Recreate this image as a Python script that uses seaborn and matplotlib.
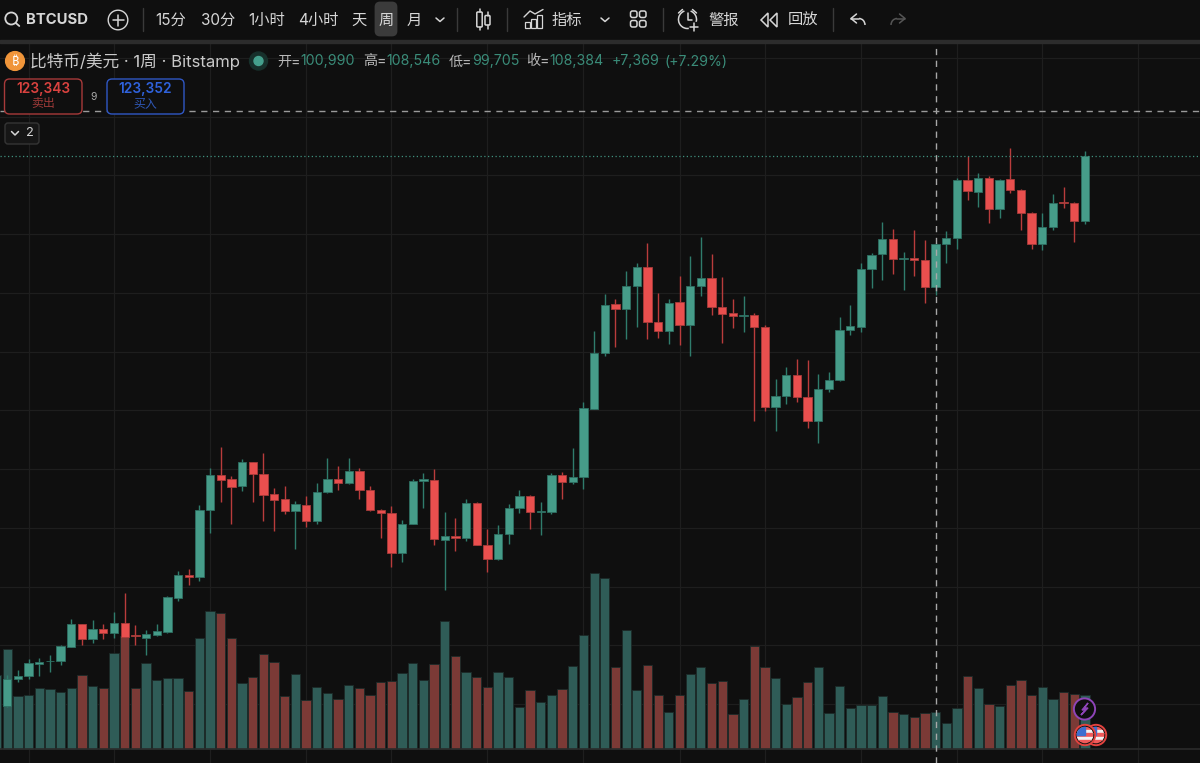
import numpy as np
import pandas as pd
import matplotlib
matplotlib.use("Agg")
import matplotlib.pyplot as plt
import seaborn as sns
from matplotlib.patches import Circle, FancyBboxPatch, Rectangle, Polygon, Arc

# Weekly BTC/USD candles: high, top of body, bottom of body, low
highs = [34932,35784,37707,37775,38288,39992,44523,43618,44248,43618,45712,48948,43396,42647,43618,48434,52695,52933,63884,70133,
         73760,68822,71718,71206,72688,66726,67119,64565,65416,67578,71888,70525,71888,70133,67119,63202,63765,61329,68311,69333,
         69963,62640,61670,64905,64394,59745,60477,64003,66386,65535,64343,69282,69452,73539,81476,93515,99817,98965,103734,105147,
         108451,99936,98965,102832,106339,109473,106578,102660,98914,99527,96530,94487,85290,87436,88696,88577,86143,86483,95848,97943,
         105045,106748,112027,110835,106918,110716,109063,108546,110546,119520,123318,120423,119912,119350,124630,117647,113730,113560,116796,118039,
         115484,124119]
body_tops = [34251,34813,36924,37196,37368,39822,43618,43618,42817,42766,43737,43737,41693,41864,42374,48165,51962,52014,63032,68992,
             68941,68260,71206,71206,69213,65703,64851,64003,63935,66148,68362,68362,69622,69622,66488,63032,62572,60699,68021,68260,
             68141,58604,58604,64173,64173,57122,58945,63372,65467,65467,62862,68941,68941,68702,80352,89769,97943,98062,101231,104415,
             104466,95049,98284,98403,101231,102542,102542,97653,96530,96189,96189,94197,82497,86074,86074,82225,83587,85120,93737,94315,
             104125,106510,109131,109131,105948,105897,105658,108384,109303,119231,119231,119572,119572,119300,119350,117529,113560,111176,115365,115484,
             115263,123343]
body_bottoms = [29653,34302,34762,36855,37266,37266,39753,41115,41115,42085,42034,41455,41523,41285,41744,42255,48097,51622,51570,62981,
                68141,67000,67068,69213,65587,64783,62862,62862,61210,61210,66046,67578,67578,66438,62981,62572,55657,55657,60597,68021,
                58040,57923,58264,58213,57071,54636,54636,58894,63423,62640,62743,62691,67800,67800,68600,80284,89718,97211,97211,101231,
                95049,93465,93465,94487,94487,101231,97653,96359,96121,96070,94197,80625,80625,82497,82225,78240,78240,83690,85120,93737,
                94197,104125,106578,105725,105829,105658,101009,100990,108384,109303,117357,117238,114241,114241,117529,113560,108281,108281,111176,115365,
                112197,112197]
lows = [29482,33791,34302,34813,35495,36585,39701,39992,40382,41115,41285,41353,40041,38288,41574,42136,47586,50311,50941,59164,
        64445,60597,66318,64445,61210,59506,62351,56340,60086,60597,65927,66488,67510,64905,62913,58315,53375,54227,60563,63320,
        57071,49408,56050,57753,57000,52422,54517,57293,62572,59796,58774,62402,64905,67408,66657,80200,89309,90738,92102,94248,
        92102,92375,91300,91131,89207,99476,96189,91523,94077,93396,78138,79944,76537,81135,81475,77048,74494,83127,85052,92834,
        93396,100838,102150,103171,100447,102932,98285,99705,105147,107480,115774,114632,111960,112708,116966,110716,107480,107361,110767,114514,
        108725,111738]
# Weeks that closed above their open
up_weeks = [0,1,2,3,4,5,6,8,10,13,14,15,16,18,19,22,27,29,30,32,37,38,39,41,43,46,47,48,50,51,53,54,55,56,58,59,62,64,65,69,
            72,73,76,77,78,79,80,81,82,84,87,88,89,91,93,97,98,101]

# Weekly traded volume, in relative units
earlier_volume = 222
volumes = [299,160,162,182,179,171,182,223,189,182,287,340,182,257,207,214,212,173,333,415,
           407,332,197,217,286,262,159,225,147,185,167,150,191,182,163,202,204,228,258,206,
           254,385,279,230,216,187,230,217,126,176,142,163,180,248,343,529,513,245,356,176,
           252,163,111,161,224,247,198,204,106,150,310,246,214,134,155,201,246,107,190,123,
           132,131,158,110,104,96,107,110,77,124,219,182,135,130,192,208,163,187,150,170,
           166,161]

# Reference lines: month starts on the time axis and round prices
month_weeks = [2,10,19,28,36,45,54,63,71,80,89,97,106]
price_grid = list(range(30000, 150000, 10000))
cursor_week = 87
cursor_price = 131030

BG = "#0f0f0f"
GRID = "#1e1e1e"
GREEN, GREEN_EDGE, GREEN_WICK = "#469c89", "#2e6f62", "#2f7c6c"
RED, RED_EDGE, RED_WICK = "#e94f4e", "#a83c3b", "#b93c3c"
VOL_GREEN, VOL_RED = "#2f5c57", "#7b3a36"

sns.set_theme(style="dark", rc={"axes.facecolor": BG, "figure.facecolor": BG})
plt.rcParams["font.family"] = ["Inter", "Noto Sans CJK SC", "DejaVu Sans"]

fig = plt.figure(figsize=(12, 7.63), dpi=100)
PX = 10.67
xlim = (-7.3 / PX, (1200 - 7.3) / PX)
ylim_price = (19946, 149885)


def clean(axis):
    axis.set_xlim(*xlim)
    axis.set_xticks([])
    axis.set_yticks([])
    axis.set_xlabel("")
    axis.set_ylabel("")
    for s in axis.spines.values():
        s.set_visible(False)


# Grid behind both panes
ax_grid = fig.add_axes([0, 0, 1, 1], zorder=0)
ax_grid.set_ylim(*ylim_price)
clean(ax_grid)
for p in price_grid:
    ax_grid.axhline(p, color=GRID, lw=0.9)
for m in month_weeks:
    ax_grid.axvline(m, color=GRID, lw=0.9)

# Volume pane
ax_vol = fig.add_axes([0, 0, 1, 1], zorder=1)
ax_vol.patch.set_alpha(0)
weeks = np.arange(len(volumes))
vol_df = pd.DataFrame({
    "week": np.r_[-1, weeks],
    "volume": [earlier_volume] + volumes,
    "direction": ["up"] + ["up" if w in up_weeks else "down" for w in weeks],
})
sns.barplot(data=vol_df, x="week", y="volume", hue="direction",
            palette={"up": VOL_GREEN, "down": VOL_RED}, native_scale=True,
            dodge=False, width=0.87, saturation=1, edgecolor="#1c2a28", linewidth=0.6,
            legend=False, ax=ax_vol)
ax_vol.set_ylim(-42, 2247)
clean(ax_vol)
ax_vol.axhline(0, color="#2b2b2b", lw=1.2, zorder=3)

# Candle pane
ax = fig.add_axes([0, 0, 1, 1], zorder=2)
ax.patch.set_alpha(0)
ax.set_ylim(*ylim_price)
wk = np.arange(len(highs))
is_up = np.isin(wk, up_weeks)
tops = np.array(body_tops)
bots = np.array(body_bottoms)
ax.vlines(wk[is_up], np.array(lows)[is_up], np.array(highs)[is_up], color=GREEN_WICK, lw=1.0, zorder=2)
ax.vlines(wk[~is_up], np.array(lows)[~is_up], np.array(highs)[~is_up], color=RED_WICK, lw=1.0, zorder=2)
ax.bar(wk[is_up], (tops - bots)[is_up], bottom=bots[is_up], width=0.78,
       color=GREEN, edgecolor=GREEN_EDGE, linewidth=0.6, zorder=3)
ax.bar(wk[~is_up], (tops - bots)[~is_up], bottom=bots[~is_up], width=0.78,
       color=RED, edgecolor=RED_EDGE, linewidth=0.6, zorder=3)
ax.axhline(body_tops[-1], color="#3f8f7e", lw=0.9, ls=(0, (1, 2)), zorder=4)
ax.axvline(cursor_week, color="#a8a8a8", lw=1.0, ls=(0, (4.5, 4)), zorder=5)
ax.axhline(cursor_price, color="#9a9a9a", lw=1.0, ls=(0, (4.5, 4)), zorder=5)
clean(ax)

# Toolbar and header, laid out in screen pixels
ui = fig.add_axes([0, 0, 1, 1], zorder=3)
ui.set_xlim(0, 1200)
ui.set_ylim(763, 0)
ui.axis("off")
ui.patch.set_alpha(0)

LIGHT = "#d6d6d6"
ui.add_patch(Rectangle((0, 0), 1200, 39.5, color=BG, zorder=0))
ui.add_patch(Rectangle((0, 39.5), 1200, 3.8, color="#2c2c2c", zorder=0))


def label(x, y, s, size=10.4, color=LIGHT, ha="left", weight="normal", **kw):
    return ui.text(x, y, s, fontsize=size, color=color, ha=ha, va="center", weight=weight, **kw)


def stroke(xs, ys, color=LIGHT, lw=1.1):
    ui.plot(xs, ys, color=color, lw=lw, solid_capstyle="round", solid_joinstyle="round")


# Search and symbol
ui.add_patch(Circle((11.3, 18.5), 6.0, fill=False, ec=LIGHT, lw=1.3))
stroke([15.8, 19.3], [23, 26], lw=1.3)
label(26, 19.5, "BTCUSD", size=10.7, weight="bold")
ui.add_patch(Circle((118, 20), 9.8, fill=False, ec=LIGHT, lw=1.0))
stroke([112.5, 123.5], [20, 20])
stroke([118, 118], [14.5, 25.5])

# Interval buttons
ui.add_patch(FancyBboxPatch((376, 3), 20, 32, boxstyle="round,pad=0,rounding_size=4", fc="#3b3b3b", ec="#3b3b3b", lw=2))
for x, s in [(155.5, "15分"), (201.5, "30分"), (248, "1小时"), (298.5, "4小时"), (351, "天"), (379, "周"), (407, "月")]:
    label(x, 20, s, size=11)
stroke([436, 440, 444], [18, 21.5, 18])
for x in (143, 457, 507, 663, 833):
    ui.plot([x, x], [8, 31], color="#3a3a3a", lw=1.0)

# Chart type icon
ui.add_patch(FancyBboxPatch((476.8, 12), 5.4, 15, boxstyle="round,pad=0,rounding_size=1", fill=False, ec=LIGHT, lw=1.1))
ui.add_patch(FancyBboxPatch((485, 15.5), 5, 9.5, boxstyle="round,pad=0,rounding_size=1", fill=False, ec=LIGHT, lw=1.1))
stroke([479.5, 479.5], [9, 12]); stroke([479.5, 479.5], [27, 30])
stroke([487.5, 487.5], [12, 15.5]); stroke([487.5, 487.5], [25, 28.5])

# Indicators icon and label
stroke([524, 530, 535, 543], [17, 11, 14, 9.5], lw=1.0)
for bx, bh in [(525, 6), (531, 9), (537, 13)]:
    ui.add_patch(Rectangle((bx, 28 - bh), 5, bh, fill=False, ec=LIGHT, lw=0.9))
label(552, 20, "指标", size=11)
stroke([601, 605, 609], [18, 21.5, 18])
for gx, gy in [(630.5, 11), (639.5, 11), (630.5, 20.5), (639.5, 20.5)]:
    ui.add_patch(FancyBboxPatch((gx, gy), 6.5, 6.5, boxstyle="round,pad=0,rounding_size=2", fill=False, ec=LIGHT, lw=1.1))

# Alert icon and label
ui.add_patch(Arc((687.5, 19.5), 18, 18, theta1=-70, theta2=250, ec=LIGHT, lw=1.1))
stroke([687.5, 687.5, 692], [13, 20, 20])
stroke([678.5, 682.5], [13, 9.5]); stroke([692.5, 696.5], [9.5, 13])
ui.add_patch(Rectangle((689, 22), 9, 9, color=BG, zorder=1.5))
stroke([689.5, 697.5], [26.5, 26.5]); stroke([693.5, 693.5], [22.5, 30.5])
label(708, 20, "警报", size=11)

# Replay icon and label
ui.add_patch(Polygon([(768, 13), (761, 20), (768, 27)], fill=False, ec=LIGHT, lw=1.1))
ui.add_patch(Polygon([(777, 13), (770, 20), (777, 27)], fill=False, ec=LIGHT, lw=1.1))
label(788, 20, "回放", size=11)

# Undo and redo arrows
stroke([856.5, 851, 856.5], [14, 18.5, 23])
stroke([851, 859], [18.5, 18.5])
ui.add_patch(Arc((859, 25), 12, 13, theta1=270, theta2=360, ec=LIGHT, lw=1.1))
DIM = "#555555"
stroke([899.5, 905, 899.5], [14, 18.5, 23], color=DIM)
stroke([905, 897], [18.5, 18.5], color=DIM)
ui.add_patch(Arc((897, 25), 12, 13, theta1=180, theta2=270, ec=DIM, lw=1.1))

# Instrument title and OHLC readout
ui.add_patch(Circle((15, 61), 9.4, color="#f0953a"))
label(15, 61, "₿", size=9, color="#ffffff", ha="center",
      family=["Noto Sans", "Roboto", "Open Sans", "Lato", "Inter", "Liberation Sans", "DejaVu Sans"])
label(30, 61, "比特币/美元 · 1周 · Bitstamp", size=12, color="#c9c9c9")
ui.add_patch(Circle((258.5, 61), 9, color="#17302b"))
ui.add_patch(Circle((258.5, 61), 4.5, color="#45a08d"))
TEAL = "#3a8c79"
GREY = "#b8b8b8"
for x, s, c in [(277, "开=", GREY), (300.5, "100,990", TEAL), (363, "高=", GREY), (386.5, "108,546", TEAL),
                (449, "低=", GREY), (472, "99,705", TEAL), (526, "收=", GREY), (549.5, "108,384", TEAL),
                (611.5, "+7,369", TEAL), (664, "(+7.29%)", TEAL)]:
    label(x, 61.5, s, size=10.2, color=c)

# Sell and buy buttons
ui.add_patch(FancyBboxPatch((4.5, 79), 77.5, 35, boxstyle="round,pad=0,rounding_size=5", fc=BG, ec="#a83a3a", lw=1.0, zorder=6))
ui.add_patch(FancyBboxPatch((107, 79), 77, 35, boxstyle="round,pad=0,rounding_size=5", fc=BG, ec="#2f57c4", lw=1.0, zorder=6))
label(43, 89.5, "123,343", size=9.9, color="#d9423f", ha="center", weight="semibold", zorder=7)
label(43, 104, "卖出", size=8.6, color="#9c3a38", ha="center", zorder=7)
label(145.5, 89.5, "123,352", size=9.9, color="#2f62dc", ha="center", weight="semibold", zorder=7)
label(145.5, 104, "买入", size=8.6, color="#2f58b8", ha="center", zorder=7)
label(94, 97, "9", size=7.5, color="#a8a8a8", ha="center")

# Collapsed indicator counter
ui.add_patch(FancyBboxPatch((5, 123), 34, 21, boxstyle="round,pad=0,rounding_size=3", fc="#161616", ec="#353535", lw=1.0))
stroke([11.5, 15, 18.5], [131.5, 135, 131.5])
label(30, 133.5, "2", size=9.2, color=LIGHT, ha="center")

# Event markers on the last candle
ui.add_patch(Circle((1084.5, 709), 10.6, fc=BG, ec="#8e44b8", lw=1.4, zorder=8))
ui.add_patch(Polygon([(1088, 703), (1082, 710), (1085.5, 710), (1081, 715), (1088, 708), (1084.5, 708)], color="#8e44b8", zorder=9))


def flag(cx, cy, z):
    ui.add_patch(Circle((cx, cy), 10.2, fc=BG, ec="#e2433f", lw=1.4, zorder=z))
    disc = Circle((cx, cy), 8.3, transform=ui.transData)
    for i in range(5):
        stripe = Rectangle((cx - 9, cy - 8.5 + i * 3.4), 18, 3.4,
                           color="#f2f2f2" if i % 2 else "#ef5a5a", zorder=z + 0.1)
        ui.add_patch(stripe)
        stripe.set_clip_path(disc)
    canton = Rectangle((cx - 9, cy - 9), 9, 8.5, color="#3d6fd0", zorder=z + 0.2)
    ui.add_patch(canton)
    canton.set_clip_path(disc)


flag(1096, 735, 8)
flag(1085, 735, 9)

fig.savefig("out.png", dpi=100, facecolor=BG)
